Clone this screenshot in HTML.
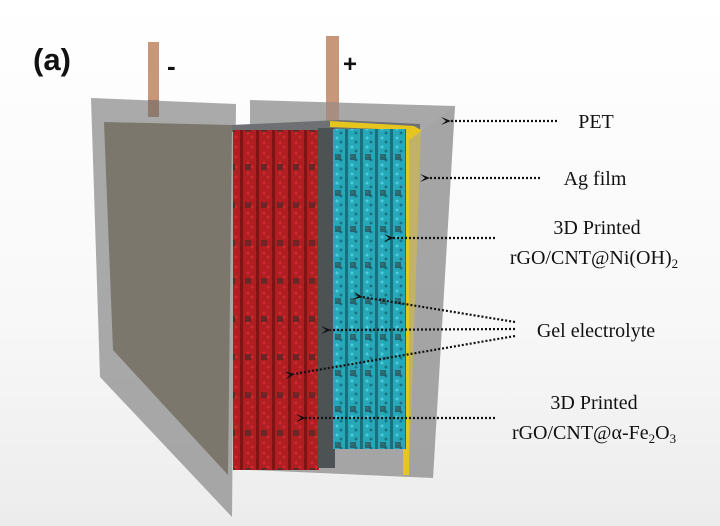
<!DOCTYPE html>
<html><head><style>
html,body{margin:0;padding:0;background:#fff;}
svg{display:block;}
</style></head><body>
<svg width="720" height="526" viewBox="0 0 720 526" xmlns="http://www.w3.org/2000/svg">
<defs>
<linearGradient id="bg" x1="0" y1="0" x2="0" y2="1">
<stop offset="0" stop-color="#ffffff"/><stop offset="0.6" stop-color="#f8f8f8"/><stop offset="1" stop-color="#ececec"/>
</linearGradient>
<pattern id="red" width="16" height="10" patternUnits="userSpaceOnUse">
<rect width="16" height="10" fill="#b01e22"/>
<rect x="0" y="0" width="3" height="10" fill="#7e1515"/>
<circle cx="8" cy="3" r="1.5" fill="#cc2a2e"/><circle cx="12" cy="7" r="1.5" fill="#cc2a2e"/>
</pattern>
<pattern id="redx" width="16" height="38" patternUnits="userSpaceOnUse">
<rect x="5" y="12" width="6" height="6" fill="#4a2a2a" opacity="0.7"/>
</pattern>
<pattern id="cy" width="15" height="9" patternUnits="userSpaceOnUse">
<rect width="15" height="9" fill="#26a8b8"/>
<rect x="0" y="0" width="3" height="9" fill="#1a6f7c"/>
<circle cx="7" cy="3" r="1.5" fill="#4ccbd8"/><circle cx="11" cy="7" r="1.5" fill="#177585"/>
</pattern>
<pattern id="cyx" width="15" height="36" patternUnits="userSpaceOnUse">
<rect x="5" y="10" width="6" height="6" fill="#2b4a50" opacity="0.7"/>
</pattern>
<marker id="ah" markerWidth="10" markerHeight="8" refX="1" refY="4" orient="auto" markerUnits="userSpaceOnUse">
<path d="M10,0 L0,4 L10,8 L5,4 Z" fill="#111"/>
</marker>
</defs>
<rect width="720" height="526" fill="url(#bg)"/>

<!-- right back plate -->
<polygon points="250,100 455,106 433,478 250,470" fill="#8c8c8c" opacity="0.75"/>
<!-- left plate outer -->
<polygon points="91,98 236,104 232,517 100,377" fill="#8e8e8e" opacity="0.75"/>

<!-- tabs -->
<rect x="148" y="42" width="11" height="58" fill="#c8977a"/>
<rect x="148" y="100" width="11" height="17" fill="#8f7a6e"/>
<rect x="326" y="36" width="13" height="66" fill="#c8977a"/>
<rect x="326" y="102" width="13" height="26" fill="#a88e80"/>

<!-- left front brown face -->
<polygon points="104,122 232,125 228,475 113,350" fill="#7c776c"/>

<!-- top of stack -->
<polygon points="232,125 340,120 420,124 420,132 232,132" fill="#6f7073"/>
<!-- red block -->
<rect x="233" y="130" width="86" height="340" fill="url(#red)"/>
<rect x="233" y="130" width="86" height="340" fill="url(#redx)"/>
<!-- gel dark -->
<rect x="318" y="128" width="17" height="340" fill="#4d5254"/>
<!-- yellow -->
<polygon points="330,121 414,126 421,130 409,475 403,475 405,130 330,127" fill="#e6c51e"/>
<!-- cyan -->
<rect x="333" y="129" width="73" height="320" fill="url(#cy)"/>
<rect x="333" y="129" width="73" height="320" fill="url(#cyx)"/>
<!-- front right plate portion over yellow -->
<polygon points="409,140 455,106 433,478 409,475" fill="#a2a2a2" opacity="0.55"/>

<!-- arrows -->
<g stroke="#111" stroke-width="2.2" stroke-dasharray="2,2" fill="none">
<line x1="557" y1="121" x2="450" y2="121" marker-end="url(#ah)"/>
<line x1="540" y1="178" x2="429" y2="178" marker-end="url(#ah)"/>
<line x1="495" y1="238" x2="393" y2="238" marker-end="url(#ah)"/>
<line x1="515" y1="322" x2="362" y2="297" marker-end="url(#ah)"/>
<line x1="515" y1="329" x2="330" y2="330" marker-end="url(#ah)"/>
<line x1="515" y1="336" x2="294" y2="374" marker-end="url(#ah)"/>
<line x1="495" y1="418" x2="305" y2="418" marker-end="url(#ah)"/>
</g>

<g font-family="Liberation Sans, sans-serif" font-weight="bold" fill="#111">
<text x="33" y="70" font-size="31">(a)</text>
<text x="167" y="75" font-size="26">-</text>
<text x="343" y="72" font-size="24">+</text>
</g>
<g font-family="Liberation Serif, serif" font-size="20" fill="#111" text-anchor="middle">
<text x="596" y="128">PET</text>
<text x="595" y="185">Ag film</text>
<text x="597" y="234">3D Printed</text>
<text x="594" y="264">rGO/CNT@Ni(OH)<tspan font-size="13" dy="4">2</tspan></text>
<text x="596" y="337">Gel electrolyte</text>
<text x="594" y="409">3D Printed</text>
<text x="594" y="439">rGO/CNT@α-Fe<tspan font-size="13" dy="4">2</tspan><tspan dy="-4">O</tspan><tspan font-size="13" dy="4">3</tspan></text>
</g>
</svg>
</body></html>
